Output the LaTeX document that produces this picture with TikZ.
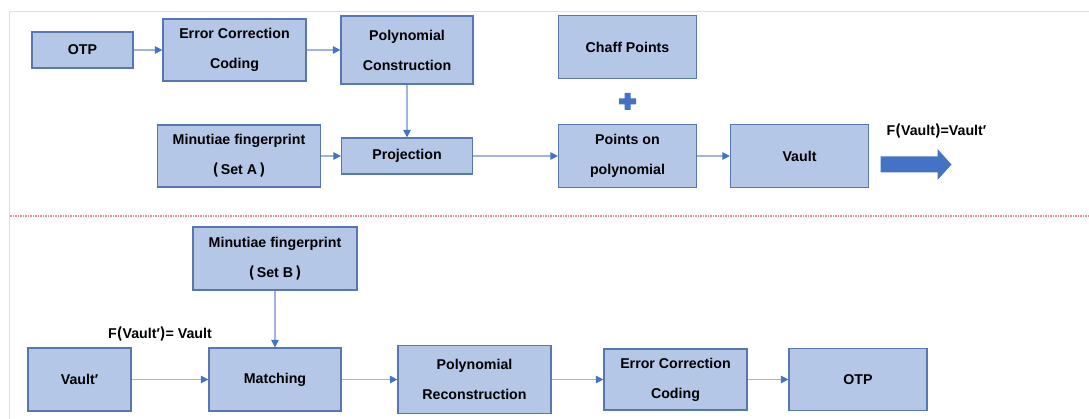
\documentclass[tikz,border=0pt]{standalone}
\usepackage{fontspec}
\setmainfont{Liberation Sans}
\newfontfamily\cjk{Noto Sans CJK KR}
\usetikzlibrary{positioning,calc,arrows.meta}

\definecolor{boxfill}{HTML}{B4C7E7}
\definecolor{boxline}{HTML}{5677B0}
\definecolor{arrline}{HTML}{9DB5E0}
\definecolor{arrtip}{HTML}{4472C4}
\definecolor{framecol}{HTML}{D6E0F2}
\definecolor{sepcol}{HTML}{F08C8C}

\newcommand{\tlp}{{\cjk (}}
\newcommand{\trp}{{\cjk )}}

\tikzset{
  blk/.style={draw=boxline,fill=boxfill,line width=1.2pt,align=center,inner sep=0pt,
    font=\bfseries\fontsize{14.2}{30}\selectfont},
  sz/.style 2 args={minimum width=#1pt,minimum height=#2pt},
  flow/.style={draw=arrline,line width=1.2pt,-{Triangle[length=7.5pt,width=7.5pt,color=arrtip]}},
  lbl/.style={font=\bfseries\fontsize{14.2}{16}\selectfont,inner sep=0pt}
}

\begin{document}
\begin{tikzpicture}[x=1pt,y=1pt,on grid]
  \useasboundingbox (0,0) rectangle (1089,-419);

  % frame and separator
  \draw[framecol,line width=1.6pt] (9.5,-419) -- (9.5,-11.5) -- (1089,-11.5);
  \draw[sepcol,line width=1.2pt,dash pattern=on 1.5pt off 1pt] (10,-216) -- (1089,-216);

  % enrolment
  \node[blk,sz={101}{36}] (otp1) at (82.5,-50) {OTP};
  \node[blk,sz={143}{62}] (ecc1) [right=152pt of otp1] {Error Correction\\Coding};
  \node[blk,sz={132}{68}] (poly) [right=172.5pt of ecc1] {Polynomial\\Construction};
  \node[blk,sz={131}{36}] (proj) [below=106pt of poly] {Projection};
  \node[blk,sz={163}{62}] (finA) [left=168pt of proj] {Minutiae fingerprint\\\tlp\,Set A\,\trp};
  \node[blk,sz={138}{63}] (pts) [right=220.5pt of proj] {Points on\\polynomial};
  \node[blk,sz={138}{63}] (chaff) [above=109pt of pts] {Chaff Points};
  \node[blk,sz={138}{63}] (vault) [right=172pt of pts] {Vault};
  \node[lbl] (flab) [above right=25.5pt and 137pt of vault] {F\tlp Vault\trp=Vault′};
  \coordinate[right=116.5pt of vault,yshift=-8.5pt] (bigarr);
  \fill[arrtip] (bigarr) ++(-35.5,-8) -- ++(57,0) -- ++(0,-7.5) -- ++(14,15.5)
    -- ++(-14,15.5) -- ++(0,-7.5) -- ++(-57,0) -- cycle;

  % plus sign
  \coordinate (plus) at ($(chaff)!0.5!(pts)$);
  \fill[arrtip] (plus) ++(-8.5,-3) -- ++(5.5,0) -- ++(0,-5.5) -- ++(6,0) -- ++(0,5.5)
    -- ++(5.5,0) -- ++(0,6) -- ++(-5.5,0) -- ++(0,5.5) -- ++(-6,0) -- ++(0,-5.5)
    -- ++(-5.5,0) -- cycle;

  % verification
  \node[blk,sz={103}{63}] (vaultp) at (79.5,-379.5) {Vault′};
  \node[blk,sz={132}{63}] (match) [right=195.5pt of vaultp] {Matching};
  \node[blk,sz={164}{63}] (finB) [above=121pt of match] {Minutiae fingerprint\\\tlp\,Set B\,\trp};
  \node[blk,sz={153}{68}] (rec) [right=199.5pt of match] {Polynomial\\Reconstruction};
  \node[blk,sz={143}{61}] (ecc2) [right=201pt of rec] {Error Correction\\Coding};
  \node[blk,sz={138}{62}] (otp2) [right=182.5pt of ecc2] {OTP};
  \node[lbl] (glab) [above right=45.5pt and 80.5pt of vaultp] {F\tlp Vault′\trp= Vault};

  % connectors
  \path[flow]
    (otp1) edge (ecc1)
    (ecc1) edge (poly)
    (poly) edge (proj)
    (finA) edge (proj)
    (proj) edge (pts)
    (pts) edge (vault);
  \path[flow]
    (vaultp) edge (match)
    (finB) edge (match)
    (match) edge (rec)
    (rec) edge (ecc2)
    (ecc2) edge (otp2);
\end{tikzpicture}
\end{document}
